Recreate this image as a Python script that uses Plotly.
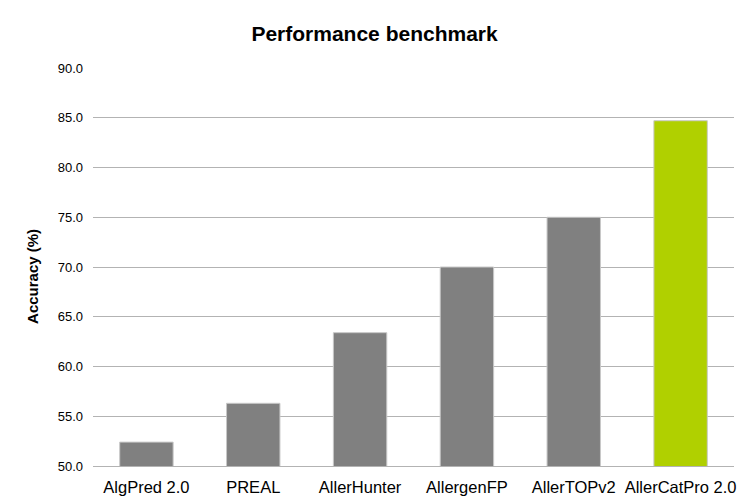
import plotly.graph_objects as go

categories = ["AlgPred 2.0", "PREAL", "AllerHunter", "AllergenFP", "AllerTOPv2", "AllerCatPro 2.0"]
accuracy = [52.4, 56.3, 63.4, 70.0, 75.0, 84.7]
bar_colors = ["#808080", "#808080", "#808080", "#808080", "#808080", "#b0d000"]
y_ticks = [50, 55, 60, 65, 70, 75, 80, 85, 90]

fig = go.Figure(go.Bar(
    x=categories, y=accuracy,
    marker=dict(color=bar_colors, line=dict(color="#c8c8c8", width=1)),
    width=0.5,
))

# page body has an 8px default margin; size the figure to fit the 750x502 window
fig.update_layout(
    width=742, height=494,
    margin=dict(l=85, r=16, t=60, b=36),
    paper_bgcolor="white", plot_bgcolor="white",
    font=dict(family="Liberation Sans, Arial, sans-serif", color="#000000"),
    title=dict(text="<b>Performance benchmark</b>", x=0.494, xanchor="center", xref="container",
               y=0.949, yanchor="middle", font=dict(size=21, color="#000000")),
    showlegend=False,
    annotations=[dict(
        text="<b>Accuracy (%)</b>", textangle=-90, showarrow=False,
        xref="paper", yref="paper", x=-0.0936, y=0.475,
        xanchor="center", yanchor="middle",
        font=dict(size=15, color="#000000"),
    )],
)
fig.update_yaxes(
    range=[50, 90], tickvals=y_ticks, tickformat=".1f", automargin=False,
    showgrid=True, gridcolor="#b3b3b3", gridwidth=1,
    zeroline=False, showline=False,
    ticks="", ticklabelstandoff=9,
    tickfont=dict(size=13, color="#000000"),
)
fig.update_xaxes(
    automargin=False,
    showgrid=False, zeroline=False, showline=True, linecolor="#b3b3b3", linewidth=1,
    ticks="", tickfont=dict(size=16.5, color="#000000"), ticklabelstandoff=6,
)

fig.write_html("out.html")
